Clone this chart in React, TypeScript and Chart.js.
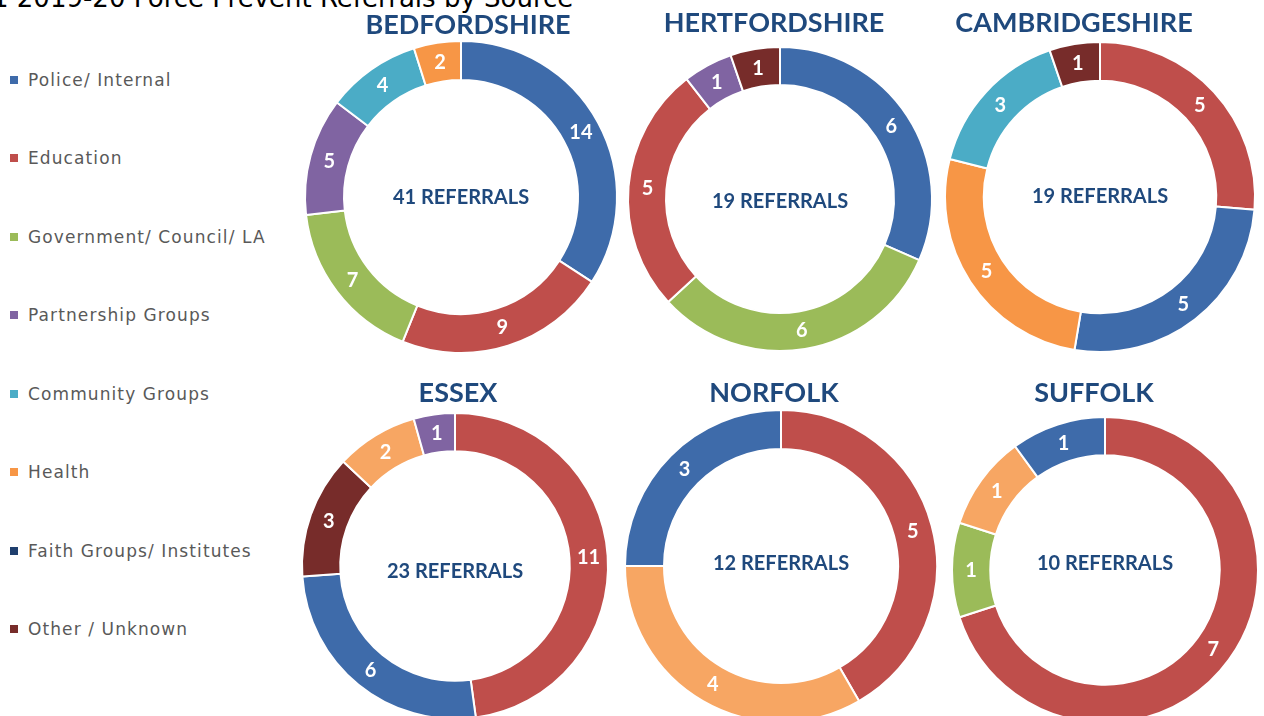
import React, { useEffect, useRef } from 'react';
import { Chart, registerables } from 'chart.js';

Chart.register(...registerables);

// ---------------- DATA ----------------
const pageTitle = '1 2019-20 Force Prevent Referrals by Source';

const categories = [
  'Police/ Internal',
  'Education',
  'Government/ Council/ LA',
  'Partnership Groups',
  'Community Groups',
  'Health',
  'Faith Groups/ Institutes',
  'Other / Unknown',
];

const countyNames = ['BEDFORDSHIRE', 'HERTFORDSHIRE', 'CAMBRIDGESHIRE', 'ESSEX', 'NORFOLK', 'SUFFOLK'];

// slices in clockwise order, starting at 12 o'clock
const bedfordshireSources = ['Police/ Internal', 'Education', 'Government/ Council/ LA', 'Partnership Groups', 'Community Groups', 'Health'];
const bedfordshireValues = [14, 9, 7, 5, 4, 2];

const hertfordshireSources = ['Police/ Internal', 'Government/ Council/ LA', 'Education', 'Partnership Groups', 'Other / Unknown'];
const hertfordshireValues = [6, 6, 5, 1, 1];

const cambridgeshireSources = ['Education', 'Police/ Internal', 'Health', 'Community Groups', 'Other / Unknown'];
const cambridgeshireValues = [5, 5, 5, 3, 1];

const essexSources = ['Education', 'Police/ Internal', 'Other / Unknown', 'Health', 'Partnership Groups'];
const essexValues = [11, 6, 3, 2, 1];

const norfolkSources = ['Education', 'Health', 'Police/ Internal'];
const norfolkValues = [5, 4, 3];

const suffolkSources = ['Education', 'Government/ Council/ LA', 'Health', 'Police/ Internal'];
const suffolkValues = [7, 1, 1, 1];

const referralSuffix = 'REFERRALS';

// ---------------- STYLE ----------------
const categoryColors: Record<string, string> = {
  'Police/ Internal': '#3E6BAA',
  'Education': '#BF4E4B',
  'Government/ Council/ LA': '#9BBB59',
  'Partnership Groups': '#8064A2',
  'Community Groups': '#4BACC6',
  'Health': '#F79646',
  'Faith Groups/ Institutes': '#1F3F6E',
  'Other / Unknown': '#772C2A',
};
const healthLight = '#F7A663';
const navy = '#1F497D';

// page-coordinate layout for each panel
const layouts = [
  { cx: 461, cy: 197, r: 156, titleX: 468, titleBase: 34, centerBase: 204, healthColor: categoryColors['Health'], top: 0 },
  { cx: 780, cy: 199, r: 152, titleX: 774, titleBase: 32, centerBase: 208, healthColor: categoryColors['Health'], top: 0 },
  { cx: 1100, cy: 197, r: 155, titleX: 1074, titleBase: 32, centerBase: 203, healthColor: categoryColors['Health'], top: 0 },
  { cx: 455, cy: 566, r: 153, titleX: 458, titleBase: 402, centerBase: 578, healthColor: healthLight, top: 360 },
  { cx: 781, cy: 566, r: 156, titleX: 774, titleBase: 402, centerBase: 570, healthColor: healthLight, top: 360 },
  { cx: 1105, cy: 570, r: 153, titleX: 1094, titleBase: 402, centerBase: 570, healthColor: healthLight, top: 360 },
];

const countySources = [bedfordshireSources, hertfordshireSources, cambridgeshireSources, essexSources, norfolkSources, suffolkSources];
const countyValues = [bedfordshireValues, hertfordshireValues, cambridgeshireValues, essexValues, norfolkValues, suffolkValues];

const donutText = {
  id: 'donutText',
  afterDatasetsDraw(chart: any, _args: any, opts: any) {
    const ctx = chart.ctx as CanvasRenderingContext2D;
    const meta = chart.getDatasetMeta(0);
    const data = chart.data.datasets[0].data as number[];
    ctx.save();
    ctx.textAlign = 'center';
    ctx.textBaseline = 'alphabetic';
    ctx.fillStyle = '#FFFFFF';
    ctx.font = 'bold 20px Lato';
    meta.data.forEach((el: any, i: number) => {
      const p = el.getProps(['x', 'y', 'startAngle', 'endAngle', 'innerRadius', 'outerRadius'], true);
      const a = (p.startAngle + p.endAngle) / 2;
      const rr = (p.innerRadius + p.outerRadius) / 2;
      ctx.fillText(String(data[i]), p.x + Math.cos(a) * rr, p.y + Math.sin(a) * rr + 7);
    });
    const c = meta.data[0];
    ctx.fillStyle = navy;
    ctx.font = 'bold 20px Lato';
    ctx.fillText(opts.centerText, c.x, opts.centerY);
    ctx.font = 'bold 27px Lato';
    ctx.fillText(opts.title, c.x + opts.titleDx, opts.titleY);
    ctx.restore();
  },
};

function DonutPanel({ index }: { index: number }) {
  const ref = useRef<HTMLCanvasElement | null>(null);
  const L = layouts[index];
  const pad = 4;
  const left = L.cx - L.r - pad;
  const width = 2 * L.r + 2 * pad;
  const height = L.cy + L.r - L.top;
  const padTop = L.cy - L.r - L.top;

  useEffect(() => {
    const sources = countySources[index];
    const values = countyValues[index];
    const total = values.reduce((s, v) => s + v, 0);
    const colors = sources.map((s) => (s === 'Health' ? L.healthColor : categoryColors[s]));
    const chart = new Chart(ref.current as HTMLCanvasElement, {
      type: 'doughnut',
      data: {
        labels: sources,
        datasets: [
          {
            data: values,
            backgroundColor: colors,
            borderColor: '#FFFFFF',
            borderWidth: 2,
            hoverBorderWidth: 2,
            hoverOffset: 0,
            clip: false as any,
          },
        ],
      },
      options: {
        responsive: false,
        animation: false,
        events: [],
        cutout: '75%',
        radius: L.r,
        layout: { padding: { top: padTop, left: pad, right: pad, bottom: 0 } },
        plugins: {
          legend: { display: false },
          tooltip: { enabled: false },
          title: { display: false },
          donutText: {
            centerText: `${total} ${referralSuffix}`,
            centerY: L.centerBase - L.top,
            title: countyNames[index],
            titleDx: L.titleX - L.cx,
            titleY: L.titleBase - L.top,
          },
        } as any,
      },
      plugins: [donutText],
    });
    return () => chart.destroy();
  }, [index]);

  return (
    <canvas
      ref={ref}
      width={width}
      height={height}
      style={{ position: 'absolute', left, top: L.top, width, height, display: 'block' }}
    />
  );
}

export default function App() {
  useEffect(() => {
    document.body.style.margin = '0';
  }, []);
  return (
    <div
      style={{
        position: 'fixed',
        left: 0,
        top: 0,
        width: 1264,
        height: 716,
        overflow: 'hidden',
        background: '#FFFFFF',
      }}
    >
      <div
        style={{
          position: 'absolute',
          left: -8,
          top: -15,
          fontFamily: '"DejaVu Sans", sans-serif',
          fontSize: 26,
          lineHeight: '26px',
          color: '#000',
          whiteSpace: 'nowrap',
        }}
      >
        {pageTitle}
      </div>
      {categories.map((c, i) => (
        <div
          key={c}
          style={{
            position: 'absolute',
            left: 10,
            top: 79.5 + i * 78.5 - 10,
            height: 20,
            display: 'flex',
            alignItems: 'center',
            whiteSpace: 'nowrap',
          }}
        >
          <span style={{ width: 8, height: 8, background: categoryColors[c], display: 'inline-block', marginRight: 10 }} />
          <span
            style={{
              fontFamily: '"DejaVu Sans", sans-serif',
              fontSize: 17,
              letterSpacing: '1.1px',
              color: '#595959',
            }}
          >
            {c}
          </span>
        </div>
      ))}
      {layouts.map((_, i) => (
        <DonutPanel key={i} index={i} />
      ))}
    </div>
  );
}
